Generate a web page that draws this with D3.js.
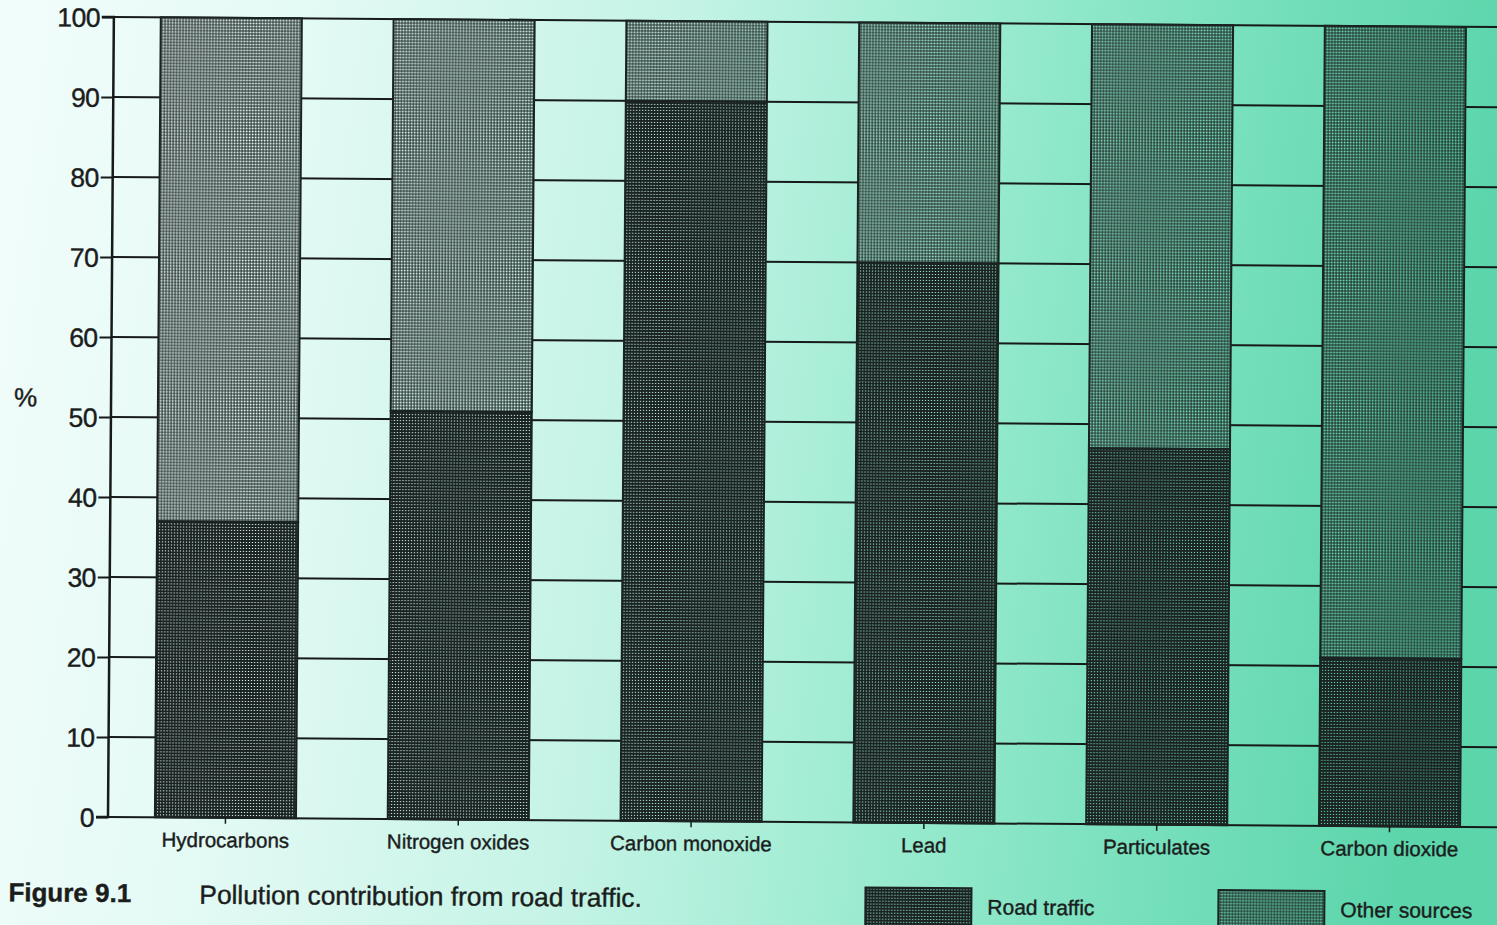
<!DOCTYPE html>
<html>
<head>
<meta charset="utf-8">
<script src="https://cdn.jsdelivr.net/npm/d3@7"></script>
<style>
  html, body { margin: 0; padding: 0; overflow: hidden; background: #fff; }
  svg { display: block; }
  text { font-family: "Liberation Sans", Arial, Helvetica, sans-serif; fill: #1b1d1d; stroke: #1b1d1d; stroke-width: 0.4px; }
</style>
</head>
<body>
<svg id="chart" width="1497" height="925"></svg>
<script>
// ---- data ----
const categories = ["Hydrocarbons", "Nitrogen oxides", "Carbon monoxide", "Lead", "Particulates", "Carbon dioxide"];
const roadTraffic = [37, 51, 90, 70, 47, 21];
const otherSources = roadTraffic.map(v => 100 - v);
const yTicks = [0, 10, 20, 30, 40, 50, 60, 70, 80, 90, 100];
const seriesNames = ["Road traffic", "Other sources"];
const captionLabel = "Figure 9.1";
const captionText = "Pollution contribution from road traffic.";
const yAxisLabel = "%";

const W = 1497, H = 925;
const svg = d3.select("#chart");
const defs = svg.append("defs");

// background gradient (paper tinted light cyan -> green), in user space
const grad = defs.append("linearGradient").attr("id", "bg").attr("gradientUnits", "userSpaceOnUse")
  .attr("x1", 0).attr("y1", 0).attr("x2", W).attr("y2", 200);
[[0, "#f2fdfb"], [0.2, "#e4faf5"], [0.45, "#c4f3e5"], [0.65, "#9aebd0"], [0.82, "#78e0bd"], [1, "#5cd5ab"]]
  .forEach(([o, c]) => grad.append("stop").attr("offset", o).attr("stop-color", c));
svg.append("rect").attr("width", W).attr("height", H).attr("fill", "url(#bg)");

// halftone-like patterns: dark ink with transparent holes
const ink = "#1a2322";
const pRoad = defs.append("pattern").attr("id", "pRoad").attr("patternUnits", "userSpaceOnUse")
  .attr("width", 3).attr("height", 3);
pRoad.append("path").attr("d", "M0,0H3V3H0Z M0.9,0.9H2.1V2.1H0.9Z").attr("fill-rule", "evenodd").attr("fill", ink);
const pOther = defs.append("pattern").attr("id", "pOther").attr("patternUnits", "userSpaceOnUse")
  .attr("width", 3).attr("height", 3);
pOther.append("path").attr("d", "M0,0H3V3H0Z M0.6,0.6H2.6V2.6H0.6Z").attr("fill-rule", "evenodd").attr("fill", ink);

// scan is slightly rotated
const g = svg.append("g").attr("transform", "rotate(0.42 113 817)");

const axisX = 108;
const x = d3.scaleBand().domain(categories).range([113, 1502]).paddingInner(0.394).paddingOuter(0.18);
const y = d3.scaleLinear().domain([0, 100]).range([817, 17]);

// horizontal gridlines (drawn under bars)
g.append("g").selectAll("line").data(yTicks).join("line")
  .attr("x1", axisX).attr("x2", 1530)
  .attr("y1", d => y(d)).attr("y2", d => y(d))
  .attr("stroke", "#161a1a").attr("stroke-width", 2);

// bars (paper underlay hides gridlines, then halftone)
const rows = categories.map((c, i) => ({ c, road: roadTraffic[i], other: otherSources[i] }));
const bars = g.append("g");
bars.selectAll("rect.paper").data(rows).join("rect").attr("class", "paper")
  .attr("x", d => x(d.c)).attr("width", x.bandwidth())
  .attr("y", y(100)).attr("height", y(0) - y(100))
  .attr("fill", "url(#bg)");
bars.selectAll("rect.road").data(rows).join("rect").attr("class", "road")
  .attr("x", d => x(d.c)).attr("width", x.bandwidth())
  .attr("y", d => y(d.road)).attr("height", d => y(0) - y(d.road))
  .attr("fill", "url(#pRoad)").attr("stroke", ink).attr("stroke-width", 2);
bars.selectAll("rect.other").data(rows).join("rect").attr("class", "other")
  .attr("x", d => x(d.c)).attr("width", x.bandwidth())
  .attr("y", d => y(100)).attr("height", d => y(d.road) - y(100))
  .attr("fill", "url(#pOther)").attr("stroke", ink).attr("stroke-width", 2);

// y axis
const yAxis = d3.axisLeft(y).tickValues(yTicks).tickSize(12).tickPadding(2);
const ya = g.append("g").attr("transform", `translate(${axisX},0)`).call(yAxis);
ya.select(".domain").attr("stroke", "#161a1a").attr("stroke-width", 2.5).attr("d", `M-12,${y(100)}H0V${y(0)}H-12`);
ya.selectAll(".tick line").attr("stroke", "#161a1a").attr("stroke-width", 2);
ya.selectAll(".tick text").attr("font-size", 26.5).attr("font-family", "Liberation Sans, Arial, sans-serif")
  .attr("fill", "#1b1d1d").attr("letter-spacing", -0.6).attr("dy", "0.36em");

// x axis (center ticks + labels)
const xAxis = d3.axisBottom(x).tickSize(6).tickPadding(5);
const xa = g.append("g").attr("transform", `translate(0,${y(0)})`).call(xAxis);
xa.select(".domain").remove();
xa.selectAll(".tick line").attr("stroke", "#161a1a").attr("stroke-width", 1.5);
xa.selectAll(".tick text").attr("font-size", 20.5).attr("font-family", "Liberation Sans, Arial, sans-serif")
  .attr("fill", "#1b1d1d").attr("dy", "0.9em");

// "%" axis label
g.append("text").attr("x", 11).attr("y", 407).attr("font-size", 26).text(yAxisLabel);

// caption
g.append("text").attr("x", 9).attr("y", 902).attr("font-size", 26).attr("font-weight", "bold").text(captionLabel);
g.append("text").attr("x", 200).attr("y", 903).attr("font-size", 26.3).text(captionText);

// legend
const legend = [
  { name: seriesNames[0], fill: "url(#pRoad)", x: 866 },
  { name: seriesNames[1], fill: "url(#pOther)", x: 1219 }
];
const lg = g.append("g").selectAll("g").data(legend).join("g");
lg.append("rect").attr("x", d => d.x).attr("y", 882).attr("width", 106).attr("height", 60)
  .attr("fill", "url(#bg)");
lg.append("rect").attr("x", d => d.x).attr("y", 882).attr("width", 106).attr("height", 60)
  .attr("fill", d => d.fill).attr("stroke", ink).attr("stroke-width", 2);
lg.append("text").attr("x", d => d.x + 122).attr("y", 908).attr("font-size", 21).text(d => d.name);
</script>
</body>
</html>
